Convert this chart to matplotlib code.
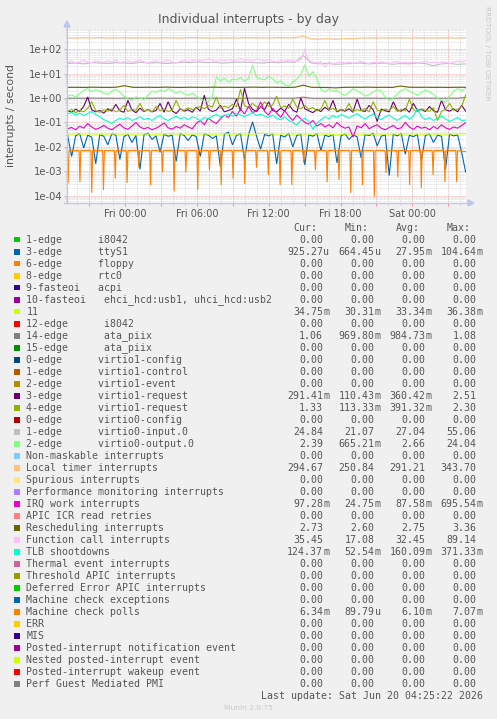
import numpy as np
import matplotlib
matplotlib.use("Agg")
import matplotlib.pyplot as plt
from matplotlib.ticker import LogLocator, MultipleLocator, FixedLocator, FuncFormatter, NullFormatter
from matplotlib.patches import Rectangle, Polygon
from matplotlib.lines import Line2D

W, H = 497, 719
BG = "#f0f0f0"
TXT = "#555555"

# time axis, hours relative to Fri 00:00
t_start, t_end = -4.85, 28.48
hours_fine = np.linspace(-4.80, 28.45, 100)
hours_coarse = np.linspace(-4.80, 28.45, 50)

# --- series (interrupts / second) ---
local_timer = [292, 288, 295, 290, 300, 286, 291, 297, 289, 293,
               290, 287, 296, 292, 288, 301, 294, 290, 286, 295,
               292, 289, 298, 293, 296, 288, 300, 291, 297, 343,
               262, 258, 268, 251, 272, 264, 285, 290, 287, 293,
               289, 292, 286, 295, 290, 288, 293, 291, 287, 294.67]

virtio0_input = [26, 27, 25, 28, 27, 26, 28, 27, 26, 29,
                 27, 28, 26, 27, 29, 28, 30, 28, 29, 27,
                 28, 30, 29, 28, 27, 29, 28, 30, 29, 55,
                 27, 25, 26, 24, 25, 26, 27, 25, 26, 27,
                 24, 26, 25, 27, 26, 21, 25, 26, 24, 24.84]

rescheduling = [2.72, 2.74, 2.70, 2.77, 2.73, 2.71, 2.76, 3.20, 2.74, 2.72,
                2.75, 2.71, 2.78, 2.73, 2.70, 2.76, 2.74, 2.72, 2.77, 2.73,
                2.75, 2.71, 2.74, 2.78, 2.72, 2.76, 2.73, 2.70, 2.75, 3.36,
                2.74, 2.71, 2.68, 2.60, 2.72, 2.75, 2.73, 2.77, 2.72, 2.74,
                2.71, 3.10, 2.76, 2.73, 2.75, 2.72, 2.74, 2.71, 2.75, 2.73]

ata_piix = [0.98, 0.985, 0.98, 0.99, 0.98, 0.985, 0.975, 0.99, 0.98, 0.985,
            0.98, 0.99, 0.985, 0.98, 0.975, 0.99, 0.985, 0.98, 0.99, 0.985,
            0.98, 0.975, 0.99, 0.985, 0.98, 0.99, 0.985, 0.98, 0.99, 1.08,
            0.98, 0.97, 0.975, 0.97, 0.98, 0.985, 0.98, 0.99, 0.985, 0.98,
            0.975, 0.99, 0.985, 0.98, 0.99, 0.985, 0.98, 0.99, 0.985, 1.06]

irq11 = [0.0330, 0.0335, 0.0332, 0.0338, 0.0331, 0.0334, 0.0336, 0.0330, 0.0333, 0.0337,
         0.0332, 0.0329, 0.0335, 0.0340, 0.0333, 0.0331, 0.0336, 0.0334, 0.0330, 0.0338,
         0.0333, 0.0335, 0.0331, 0.0336, 0.0364, 0.0334, 0.0332, 0.0337, 0.0333, 0.0335,
         0.0330, 0.0334, 0.0331, 0.0303, 0.0332, 0.0336, 0.0333, 0.0330, 0.0335, 0.0332,
         0.0334, 0.0331, 0.0337, 0.0333, 0.0330, 0.0335, 0.0332, 0.0336, 0.0334, 0.03475]

function_call = [29, 33, 27, 31, 35, 30, 28, 34, 31, 29,
                 33, 30, 36, 28, 31, 34, 29, 32, 35, 30,
                 28, 31, 34, 29, 33, 36, 30, 27, 32, 35,
                 31, 34, 38, 33, 36, 40, 35, 32, 37, 34,
                 38, 33, 36, 41, 35, 37, 33, 39, 36, 34,
                 37, 33, 30, 35, 32, 36, 34, 31, 38, 89,
                 35, 30, 27, 31, 19, 29, 24, 28, 31, 27,
                 30, 26, 29, 32, 28, 25, 30, 27, 31, 28,
                 26, 29, 32, 27, 30, 28, 31, 26, 29, 33,
                 28, 30, 27, 31, 29, 26, 30, 33, 31, 35.45]

virtio0_output = [1.2, 1.35, 1.1, 1.5, 2.0, 2.4, 1.8, 2.2, 1.9, 1.6,
                  1.4, 1.9, 2.3, 1.7, 1.2, 0.9, 0.8, 1.1, 1.0, 0.85,
                  1.3, 1.9, 1.7, 2.1, 1.8, 2.4, 2.0, 1.6, 1.9, 1.5,
                  1.3, 1.6, 1.2, 0.9, 0.75, 0.7, 1.2, 7.5, 5.0, 6.5,
                  4.5, 6.0, 5.5, 7.0, 4.8, 6.5, 22.0, 7.0, 6.0, 5.5,
                  8.0, 6.0, 4.2, 5.0, 3.5, 3.0, 4.5, 6.0, 9.0, 23.0,
                  8.0, 12.0, 6.0, 2.2, 1.8, 2.3, 1.9, 2.1, 1.5, 1.3,
                  1.7, 2.4, 2.0, 1.6, 1.2, 1.4, 1.8, 2.2, 1.9, 1.1,
                  0.8, 1.0, 1.5, 2.0, 2.4, 1.9, 1.6, 1.3, 1.7, 2.1,
                  1.8, 1.4, 1.0, 0.8, 0.665, 1.2, 1.9, 2.4, 2.0, 2.39]

virtio1_req3 = [0.30, 0.26, 0.35, 0.28, 0.45, 1.1, 0.33, 0.27, 0.31, 0.24,
                0.36, 0.29, 0.55, 0.30, 0.26, 0.8, 0.32, 0.25, 0.38, 0.28,
                0.34, 0.27, 0.31, 0.6, 0.26, 0.7, 0.30, 0.23, 0.36, 0.29,
                0.33, 0.26, 0.42, 0.29, 1.3, 0.35, 0.28, 0.32, 0.5, 0.27,
                0.31, 0.36, 0.9, 0.30, 2.51, 0.6, 0.34, 0.28, 0.45, 0.33,
                0.7, 0.31, 0.27, 0.38, 0.29, 0.55, 0.32, 0.26, 1.0, 0.36,
                0.30, 0.25, 0.34, 0.28, 0.42, 0.31, 0.8, 0.27, 0.33, 0.29,
                0.36, 0.26, 0.9, 0.31, 0.28, 0.5, 0.33, 0.11, 0.35, 0.30,
                0.27, 0.7, 0.32, 0.29, 0.38, 0.26, 0.6, 0.31, 0.34, 0.28,
                0.45, 0.30, 0.26, 0.8, 0.33, 0.29, 0.36, 0.27, 0.5, 0.291]

virtio1_req4 = [0.28, 0.34, 0.25, 0.31, 0.27, 0.38, 0.7, 0.30, 0.26, 0.33,
                0.29, 0.36, 0.27, 0.32, 0.5, 0.28, 0.35, 0.31, 0.6, 0.29,
                0.34, 0.27, 0.45, 0.30, 0.36, 0.28, 0.32, 0.8, 0.35, 0.31,
                0.40, 0.33, 0.38, 0.45, 0.36, 0.5, 0.42, 1.1, 0.39, 0.46,
                0.40, 0.55, 0.43, 2.3, 0.48, 0.41, 0.6, 0.44, 0.39, 0.7,
                0.45, 0.52, 1.2, 0.40, 0.47, 0.38, 0.9, 0.43, 0.36, 0.5,
                0.34, 0.41, 0.30, 0.36, 0.8, 0.32, 0.38, 0.29, 0.35, 0.31,
                0.6, 0.28, 0.33, 0.30, 0.37, 0.27, 0.7, 0.32, 0.29, 0.35,
                0.31, 0.45, 0.28, 0.34, 0.30, 0.9, 0.33, 0.27, 0.36, 0.31,
                0.29, 0.4, 0.12, 0.28, 0.35, 0.6, 0.31, 0.34, 0.45, 1.33]

tlb = [0.22, 0.26, 0.20, 0.24, 0.19, 0.23, 0.28, 0.21, 0.17, 0.13,
       0.11, 0.09, 0.12, 0.15, 0.13, 0.16, 0.12, 0.14, 0.17, 0.13,
       0.15, 0.12, 0.16, 0.19, 0.14, 0.12, 0.15, 0.18, 0.14, 0.16,
       0.13, 0.17, 0.15, 0.12, 0.16, 0.14, 0.18, 0.21, 0.17, 0.19,
       0.22, 0.18, 0.24, 0.20, 0.17, 0.21, 0.25, 0.19, 0.22, 0.18,
       0.16, 0.20, 0.15, 0.13, 0.17, 0.12, 0.10, 0.08, 0.12, 0.15,
       0.11, 0.053, 0.09, 0.13, 0.17, 0.14, 0.19, 0.16, 0.21, 0.18,
       0.15, 0.19, 0.23, 0.17, 0.14, 0.18, 0.22, 0.16, 0.13, 0.17,
       0.20, 0.15, 0.12, 0.16, 0.19, 0.14, 0.18, 0.37, 0.17, 0.13,
       0.16, 0.12, 0.15, 0.18, 0.14, 0.11, 0.13, 0.16, 0.12, 0.124]

irq_work = [0.055, 0.062, 0.05, 0.07, 0.058, 0.09, 0.065, 0.052, 0.06, 0.075,
            0.058, 0.05, 0.066, 0.085, 0.06, 0.052, 0.07, 0.1, 0.065, 0.055,
            0.062, 0.05, 0.058, 0.072, 0.095, 0.06, 0.053, 0.068, 0.058, 0.08,
            0.065, 0.055, 0.09, 0.12, 0.08, 0.15, 0.11, 0.09, 0.14, 0.2,
            0.16, 0.28, 0.18, 0.35, 0.22, 0.45, 0.25, 0.3, 0.695, 0.28,
            0.2, 0.38, 0.24, 0.16, 0.3, 0.18, 0.12, 0.2, 0.14, 0.1,
            0.085, 0.12, 0.07, 0.09, 0.065, 0.08, 0.06, 0.1, 0.07, 0.058,
            0.065, 0.025, 0.072, 0.06, 0.09, 0.055, 0.068, 0.08, 0.058, 0.05,
            0.062, 0.075, 0.055, 0.06, 0.1, 0.065, 0.052, 0.07, 0.058, 0.063,
            0.05, 0.068, 0.055, 0.08, 0.06, 0.052, 0.065, 0.058, 0.075, 0.0973]

ttys1 = [0.03, 0.004, 0.028, 0.035, 0.009, 0.03, 0.025, 0.002, 0.032, 0.027,
         0.012, 0.034, 0.03, 0.003, 0.026, 0.033, 0.015, 0.029, 0.0012, 0.031,
         0.036, 0.02, 0.028, 0.006, 0.033, 0.027, 0.03, 0.0025, 0.035, 0.029,
         0.018, 0.031, 0.026, 0.004, 0.034, 0.03, 0.022, 0.028, 0.0015, 0.033,
         0.04, 0.012, 0.029, 0.035, 0.003, 0.031, 0.105, 0.027, 0.008, 0.032,
         0.028, 0.034, 0.002, 0.03, 0.025, 0.036, 0.01, 0.029, 0.033, 0.0018,
         0.031, 0.027, 0.035, 0.007, 0.03, 0.026, 0.033, 0.0022, 0.028, 0.034,
         0.02, 0.03, 0.026, 0.0035, 0.032, 0.029, 0.036, 0.011, 0.027, 0.031,
         0.00066, 0.033, 0.028, 0.035, 0.005, 0.03, 0.026, 0.032, 0.0028, 0.029,
         0.034, 0.015, 0.03, 0.027, 0.0012, 0.033, 0.028, 0.031, 0.006, 0.000925]

# machine check polls: flat level with a short dip roughly every hour
mcp_level = 0.0070
mcp_last = 0.00634
mcp_dip_hours = [-4.75, -3.77, -2.78, -1.80, -0.82, 0.17, 1.15, 2.13, 3.12, 4.10,
                 5.08, 6.07, 7.05, 8.03, 9.02, 10.00, 10.98, 11.97, 12.95, 13.93,
                 14.92, 15.90, 16.88, 17.87, 18.85, 19.83, 20.82, 21.80, 22.78, 23.77,
                 24.75, 25.73, 26.72, 27.70]
mcp_dip_values = [3.3e-4, 3.6e-4, 1.3e-4, 1.7e-4, 5e-4, 3.3e-4, 1.4e-3, 2.7e-4, 9e-4, 1.5e-4,
                  9e-4, 1.7e-4, 1.1e-3, 2.7e-4, 5e-4, 3e-4, 1.4e-3, 7e-4, 2.7e-4, 2.7e-4,
                  2.2e-3, 1.1e-3, 3.6e-4, 4.4e-4, 1.3e-4, 2.7e-4, 9e-5, 8.5e-4, 5.8e-4, 2.7e-4,
                  2e-4, 7e-4, 3.6e-4, 3.6e-4]

# --- legend ---
labels = [
    "1-edge      i8042", "3-edge      ttyS1", "6-edge      floppy", "8-edge      rtc0",
    "9-fasteoi   acpi", "10-fasteoi   ehci_hcd:usb1, uhci_hcd:usb2", "11",
    "12-edge      i8042", "14-edge      ata_piix", "15-edge      ata_piix",
    "0-edge      virtio1-config", "1-edge      virtio1-control", "2-edge      virtio1-event",
    "3-edge      virtio1-request", "4-edge      virtio1-request", "0-edge      virtio0-config",
    "1-edge      virtio0-input.0", "2-edge      virtio0-output.0",
    "Non-maskable interrupts", "Local timer interrupts", "Spurious interrupts",
    "Performance monitoring interrupts", "IRQ work interrupts", "APIC ICR read retries",
    "Rescheduling interrupts", "Function call interrupts", "TLB shootdowns",
    "Thermal event interrupts", "Threshold APIC interrupts", "Deferred Error APIC interrupts",
    "Machine check exceptions", "Machine check polls", "ERR", "MIS",
    "Posted-interrupt notification event", "Nested posted-interrupt event",
    "Posted-interrupt wakeup event", "Perf Guest Mediated PMI",
]
z = "0.00"
cur = [z, "925.27u", z, z, z, z, "34.75m", z, "1.06", z, z, z, z, "291.41m", "1.33", z,
       "24.84", "2.39", z, "294.67", z, z, "97.28m", z, "2.73", "35.45", "124.37m",
       z, z, z, z, "6.34m", z, z, z, z, z, z]
mins = [z, "664.45u", z, z, z, z, "30.31m", z, "969.80m", z, z, z, z, "110.43m", "113.33m", z,
        "21.07", "665.21m", z, "250.84", z, z, "24.75m", z, "2.60", "17.08", "52.54m",
        z, z, z, z, "89.79u", z, z, z, z, z, z]
avgs = [z, "27.95m", z, z, z, z, "33.34m", z, "984.73m", z, z, z, z, "360.42m", "391.32m", z,
        "27.04", "2.66", z, "291.21", z, z, "87.58m", z, "2.75", "32.45", "160.09m",
        z, z, z, z, "6.10m", z, z, z, z, z, z]
maxs = [z, "104.64m", z, z, z, z, "36.38m", z, "1.08", z, z, z, z, "2.51", "2.30", z,
        "55.06", "24.04", z, "343.70", z, z, "695.54m", z, "3.36", "89.14", "371.33m",
        z, z, z, z, "7.07m", z, z, z, z, z, z]

palette = ["#00CC00", "#0066B3", "#FF8000", "#FFCC00", "#330099", "#990099", "#CCFF00",
           "#FF0000", "#808080", "#008F00", "#00487D", "#B35A00", "#B38F00", "#6B006B",
           "#8FB300", "#B30000", "#BEBEBE", "#80FF80", "#80C9FF", "#FFC080", "#FFE680",
           "#AA80FF", "#EE00CC", "#FF8080", "#666600", "#FFBFFF", "#00FFCC", "#CC6699",
           "#999900"]
colors = [palette[i % len(palette)] for i in range(len(labels))]

# build the polled series vertices from the dip table
mcp_t = [t_start]
mcp_v = [mcp_level]
for h, v in zip(mcp_dip_hours, mcp_dip_values):
    mcp_t += [h - 0.07, h, h + 0.07]
    mcp_v += [mcp_level, v, mcp_level]
mcp_t.append(t_end - 0.03)
mcp_v.append(mcp_last)

# legend index -> data (zero series are not drawn on a log axis)
series = {
    1: (hours_fine, ttys1),
    6: (hours_coarse, irq11),
    8: (hours_coarse, ata_piix),
    13: (hours_fine, virtio1_req3),
    14: (hours_fine, virtio1_req4),
    16: (hours_coarse, virtio0_input),
    17: (hours_fine, virtio0_output),
    19: (hours_coarse, local_timer),
    22: (hours_fine, irq_work),
    24: (hours_coarse, rescheduling),
    25: (hours_fine, function_call),
    26: (hours_fine, tlb),
    31: (mcp_t, mcp_v),
}


def fx(x):
    return x / W


def fy(y):
    return 1 - y / H


fig = plt.figure(figsize=(W / 100, H / 100), dpi=100, facecolor=BG)
ax = fig.add_axes([fx(67), fy(203), (466 - 67) / W, (203 - 28.5) / H])
ax.set_facecolor("white")

for idx in sorted(series):
    t, v = series[idx]
    ax.plot(t, v, color=colors[idx], lw=0.8, solid_joinstyle="miter")

ax.set_yscale("log")
ax.set_ylim(10 ** -4.303, 10 ** 2.848)
ax.set_xlim(t_start, t_end)

# only the decades inside the view, so no stray labels exist below the plot
decades = [10.0 ** k for k in range(-4, 3)]
ax.yaxis.set_major_locator(FixedLocator(decades))
ax.yaxis.set_minor_locator(LogLocator(base=10, subs=range(2, 10), numticks=20))
ax.yaxis.set_minor_formatter(NullFormatter())
ax.yaxis.set_major_formatter(FuncFormatter(lambda v, p: "1e%+03d" % int(round(np.log10(v)))))

day_names = {0: "Fri 00:00", 6: "Fri 06:00", 12: "Fri 12:00", 18: "Fri 18:00", 24: "Sat 00:00"}
ax.xaxis.set_major_locator(FixedLocator(list(range(-3, 28, 3))))
ax.xaxis.set_minor_locator(MultipleLocator(1))
ax.xaxis.set_major_formatter(FuncFormatter(lambda v, p: day_names.get(int(round(v)), "")))

ax.set_axisbelow(True)
ax.grid(which="minor", color="#cfcfcf", ls=(0, (1, 1)), lw=0.5)
ax.grid(which="major", color="#f0a0a0", ls=(0, (1, 1)), lw=0.6)

for s in ax.spines.values():
    s.set_visible(False)
ax.tick_params(axis="y", which="major", length=2, width=0.6, color="#b0b0b0",
               labelsize=7.2, labelcolor=TXT, pad=1.2)
ax.tick_params(axis="y", which="minor", length=1.5, width=0.5, color="#c8c8c8")
ax.tick_params(axis="x", which="major", length=2, width=0.6, color="#f08080",
               labelsize=7.0, labelcolor=TXT, pad=2.0)
ax.tick_params(axis="x", which="minor", length=1.5, width=0.5, color="#c8c8c8")

# axis lines with arrow heads
axis_col = "#bcc4ee"
fig.add_artist(Line2D([fx(67), fx(67)], [fy(203), fy(25)], color=axis_col, lw=0.9))
fig.add_artist(Line2D([fx(64), fx(469)], [fy(203), fy(203)], color=axis_col, lw=0.9))
fig.add_artist(Polygon([(fx(64), fy(27)), (fx(70), fy(27)), (fx(67), fy(21))],
                       closed=True, color=axis_col, transform=fig.transFigure))
fig.add_artist(Polygon([(fx(468), fy(200)), (fx(468), fy(206)), (fx(474), fy(203))],
                       closed=True, color=axis_col, transform=fig.transFigure))

fig.text(fx(248.5), fy(19), "Individual interrupts - by day", ha="center", va="center",
         fontsize=9, color=TXT)
fig.text(fx(11), fy(115.5), "interrupts / second", rotation=90, ha="center", va="center",
         fontsize=7.8, color=TXT)
fig.text(fx(487), fy(53), "RRDTOOL / TOBI OETIKER", rotation=270, ha="center", va="center",
         fontsize=5.3, color="#c8c8c8")

# legend block
mono = "DejaVu Sans Mono"
fs = 7.1
cw = 5.97
col_ends = [329.2, 380.6, 431.6, 482.6]
for name, xe in zip(["Cur:", "Min:", "Avg:", "Max:"], col_ends):
    fig.text(fx(xe - 2 * cw), fy(227.7), name, ha="right", va="center",
             family=mono, fontsize=fs, color=TXT)

for i, lab in enumerate(labels):
    y = 239.7 + 12 * i
    fig.add_artist(Rectangle((fx(14), fy(y + 2.8)), 5.6 / W, 5.6 / H,
                             transform=fig.transFigure, facecolor=colors[i],
                             edgecolor="none"))
    fig.text(fx(26.3), fy(y), lab, ha="left", va="center", family=mono,
             fontsize=fs, color=TXT)
    for vals, xe in zip([cur, mins, avgs, maxs], col_ends):
        s = vals[i]
        unit = s[-1] if s[-1].isalpha() else ""
        num = s[:-1] if unit else s
        fig.text(fx(xe - cw), fy(y), num, ha="right", va="center", family=mono,
                 fontsize=fs, color=TXT)
        if unit:
            fig.text(fx(xe - cw), fy(y), unit, ha="left", va="center", family=mono,
                     fontsize=fs, color=TXT)

fig.text(fx(483), fy(695.7), "Last update: Sat Jun 20 04:25:22 2026", ha="right",
         va="center", family=mono, fontsize=fs, color=TXT)
fig.text(fx(248.5), fy(708), "Munin 2.0.75", ha="center", va="center",
         fontsize=5.4, color="#c8c8c8")

fig.savefig("out.png", dpi=100, facecolor=BG)
